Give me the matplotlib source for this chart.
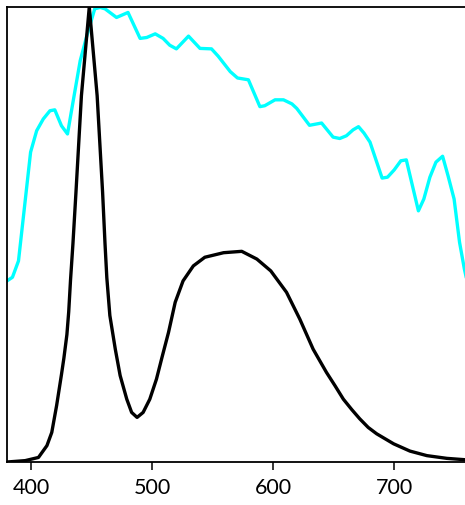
import numpy as np
import matplotlib
matplotlib.use('Agg')
import matplotlib.pyplot as plt

###############################################################################
# Data (normalised to peak = 1)
###############################################################################

# white LED spectrum (black)
led_wl = [380, 395, 406, 413, 417, 421, 425, 427, 429.5, 431, 432.5, 434.5,
          437, 441.5, 448,
          454.5, 459, 461, 462.5, 465, 469.5, 473.5, 479, 483, 487.5, 492.5,
          498, 503.5, 508, 513.5, 519, 525.5, 534, 543.5, 559, 574, 586.5,
          598, 611, 622, 633, 644, 651, 658, 665, 671.5, 678.5, 685.5,
          699.5, 713, 727, 743.5, 758.5, 760]
led_val = [0.0, 0.003, 0.010, 0.036, 0.065, 0.124, 0.192, 0.228, 0.280,
           0.330, 0.400, 0.480, 0.593, 0.805, 1.0, 0.805, 0.593, 0.480,
           0.405, 0.322, 0.248,
           0.190, 0.138, 0.109, 0.098, 0.109, 0.138, 0.182, 0.229, 0.285,
           0.351, 0.398, 0.431, 0.450, 0.460, 0.463, 0.446, 0.420, 0.373,
           0.314, 0.248, 0.197, 0.168, 0.138, 0.115, 0.095, 0.076, 0.062,
           0.040, 0.024, 0.014, 0.008, 0.005, 0.005]

# second curve (cyan)
cy_wl = [380, 384.5, 389.5, 399.5, 404.5, 410, 415.5, 419.5, 425, 430, 435,
         440.5, 446, 452.5, 457, 461, 470.5, 480, 490, 495.5, 502.5, 509,
         514.5, 520, 530, 539.5, 549, 554.5, 564.5, 570.5, 579.5, 589, 593,
         601.5, 608.5, 615.5, 619.5, 630, 640, 649.5, 655, 660.5, 666, 670.5,
         675, 680, 690, 694.5, 700, 705.5, 710, 720, 724.5, 729.5, 734.5,
         740, 744.5, 749.5, 754, 758, 760]
cy_val = [0.398, 0.406, 0.442, 0.681, 0.728, 0.754, 0.772, 0.774, 0.739,
          0.721, 0.798, 0.882, 0.937, 0.996, 0.999, 0.996, 0.977, 0.988,
          0.931, 0.933, 0.941, 0.931, 0.916, 0.908, 0.936, 0.909, 0.908,
          0.892, 0.858, 0.844, 0.840, 0.781, 0.783, 0.796, 0.796, 0.787,
          0.777, 0.740, 0.745, 0.714, 0.711, 0.717, 0.730, 0.737, 0.723,
          0.703, 0.624, 0.626, 0.642, 0.662, 0.664, 0.552, 0.578, 0.626,
          0.659, 0.672, 0.629, 0.578, 0.483, 0.424, 0.400]

xticks = [400, 500, 600, 700]

###############################################################################
# Plot
###############################################################################

plt.rcParams['font.family'] = ['Lato', 'DejaVu Sans']

fig = plt.figure(figsize=(4.65, 5.06), dpi=100)
ax = fig.add_axes([7/465., 43/506., 459.8/465., 455/506.])

ax.plot(cy_wl, cy_val, color='#00ffff', lw=2.4, solid_joinstyle='round')
ax.plot(led_wl, led_val, color='black', lw=2.4, solid_joinstyle='round')

ax.set_xlim(380, 760)
ax.set_ylim(0, 1)
ax.set_xticks(xticks)
ax.set_xticklabels([str(t) for t in xticks], fontsize=15.5)
ax.set_yticks([])
ax.tick_params(axis='x', direction='out', length=5.5, width=1.1, pad=5)
for s in ax.spines.values():
    s.set_linewidth(1.3)

fig.savefig('out.png', dpi=100)
